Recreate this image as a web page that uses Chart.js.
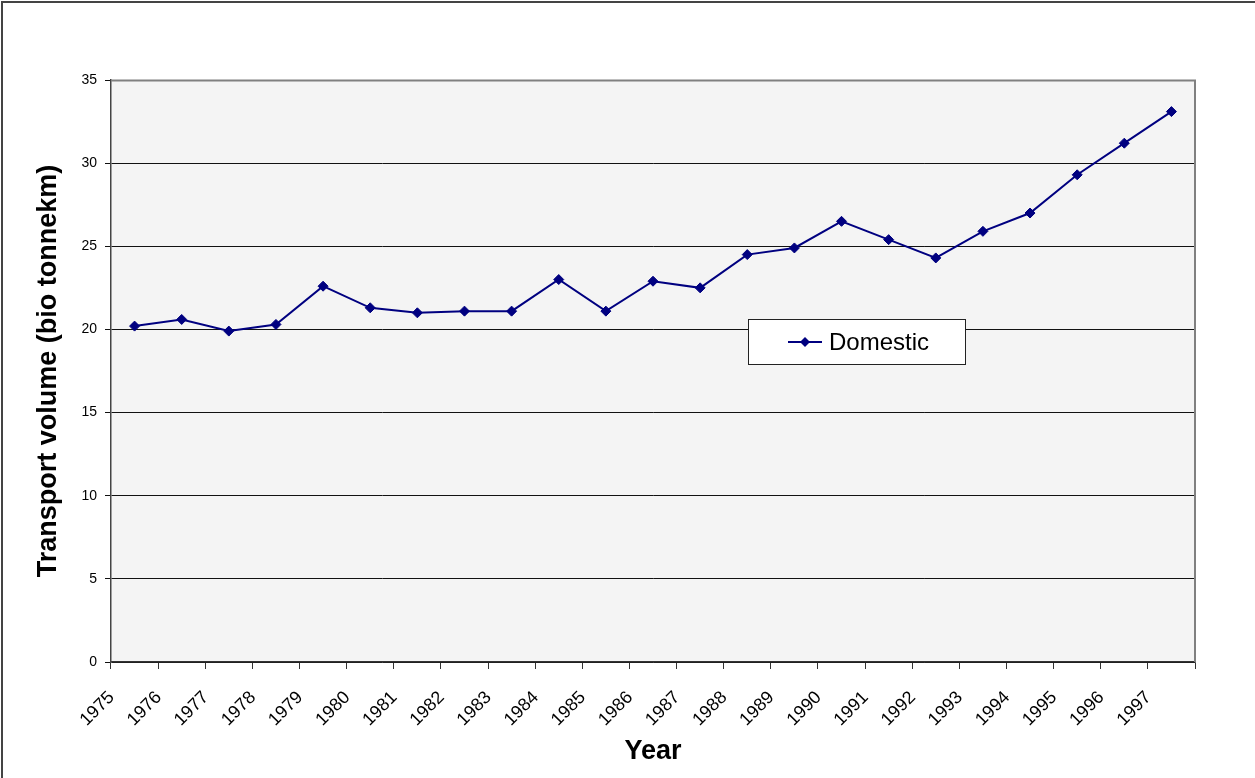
<!DOCTYPE html>
<html>
<head>
<meta charset="utf-8">
<script src="https://cdn.jsdelivr.net/npm/chart.js@4/dist/chart.umd.min.js"></script>
<style>
  html, body { margin: 0; padding: 0; background: #fff; }
  #wrap { position: relative; width: 1255px; height: 778px; overflow: hidden; }
  #frame { position: absolute; left: 1px; top: 1px; width: 1260px; height: 800px;
           border-left: 2px solid #444; border-top: 2px solid #444; pointer-events: none; }
  canvas { position: absolute; left: 0; top: 0; }
</style>
</head>
<body>
<div id="wrap">
  <canvas id="chart" width="1255" height="778"></canvas>
  <div id="frame"></div>
</div>
<script>
// Years on the category axis
const years = ['1975','1976','1977','1978','1979','1980','1981','1982','1983','1984','1985','1986',
               '1987','1988','1989','1990','1991','1992','1993','1994','1995','1996','1997'];
// Domestic freight transport volume, billion tonne-km
const domestic = [20.2, 20.6, 19.9, 20.3, 22.6, 21.3, 21.0, 21.1, 21.1, 23.0, 21.1, 22.9,
                  22.5, 24.5, 24.9, 26.5, 25.4, 24.3, 25.9, 27.0, 29.3, 31.2, 33.1];
// Value axis ticks
const yMin = 0, yMax = 35, yStep = 5;

const FONT = "'Liberation Sans', Arial, sans-serif";
const NAVY = '#000080';

// Plot background and frame
const plotBackground = {
  id: 'plotBackground',
  beforeDraw(chart) {
    const { ctx, chartArea: a } = chart;
    ctx.save();
    ctx.fillStyle = '#f4f4f4';
    ctx.fillRect(a.left, a.top, a.right - a.left, a.bottom - a.top);
    ctx.restore();
  },
  afterDatasetsDraw(chart) {
    const { ctx, chartArea: a } = chart;
    ctx.save();
    ctx.strokeStyle = '#808080';
    ctx.lineWidth = 2;
    ctx.beginPath();
    ctx.moveTo(a.left, a.top + 0.5);
    ctx.lineTo(a.right, a.top + 0.5);
    ctx.lineTo(a.right, a.bottom);
    ctx.stroke();
    ctx.restore();
  }
};

// Boxed legend inside the plot
const boxedLegend = {
  id: 'boxedLegend',
  afterDraw(chart) {
    const { ctx, chartArea: a } = chart;
    const ds = chart.data.datasets[0];
    const x = a.left + 637, y = a.top + 239, w = 217, h = 45;
    ctx.save();
    ctx.fillStyle = '#ffffff';
    ctx.fillRect(x, y, w, h);
    ctx.strokeStyle = '#222';
    ctx.lineWidth = 1;
    ctx.strokeRect(x + 0.5, y + 0.5, w, h);
    const my = y + 23;
    ctx.strokeStyle = ds.borderColor;
    ctx.lineWidth = 2;
    ctx.beginPath();
    ctx.moveTo(x + 40, my);
    ctx.lineTo(x + 74, my);
    ctx.stroke();
    ctx.fillStyle = ds.pointBackgroundColor;
    ctx.beginPath();
    const r = 5, cx = x + 57;
    ctx.moveTo(cx, my - r); ctx.lineTo(cx + r, my); ctx.lineTo(cx, my + r); ctx.lineTo(cx - r, my);
    ctx.closePath();
    ctx.fill();
    ctx.fillStyle = '#000';
    ctx.font = '24px ' + FONT;
    ctx.textBaseline = 'middle';
    ctx.textAlign = 'left';
    ctx.fillText(ds.label, x + 81, my + 1);
    ctx.restore();
  }
};

new Chart(document.getElementById('chart'), {
  type: 'line',
  data: {
    labels: years,
    datasets: [{
      label: 'Domestic',
      data: domestic,
      borderColor: NAVY,
      backgroundColor: NAVY,
      pointBackgroundColor: NAVY,
      pointBorderColor: NAVY,
      pointStyle: 'rectRot',
      pointRadius: 5,
      pointBorderWidth: 1,
      borderWidth: 2,
      tension: 0,
      fill: false
    }]
  },
  options: {
    responsive: false,
    animation: false,
    devicePixelRatio: 1,
    layout: { padding: { top: 80, right: 60, left: 0, bottom: 0 } },
    plugins: {
      legend: { display: false },
      tooltip: { enabled: false }
    },
    scales: {
      x: {
        offset: true,
        grid: { display: true, offset: true, drawOnChartArea: false, drawTicks: true,
                tickLength: 7, color: '#333', lineWidth: 1 },
        border: { display: true, color: '#333', width: 1.5 },
        ticks: { color: '#000', font: { family: FONT, size: 18 },
                 maxRotation: 45, minRotation: 45, labelOffset: -23, padding: 18, autoSkip: false },
        title: { display: true, text: 'Year', color: '#000',
                 font: { family: FONT, size: 27, weight: 'bold' }, padding: { top: 0, bottom: 10 } },
        afterFit(s) { s.height = 116; }
      },
      y: {
        min: yMin, max: yMax,
        ticks: { stepSize: yStep, color: '#000', font: { family: FONT, size: 14 }, padding: 8 },
        grid: { color: '#111', lineWidth: 1, drawTicks: true, tickLength: 6 },
        border: { display: true, color: '#444', width: 1.5 },
        title: { display: true, text: 'Transport volume (bio tonnekm)', color: '#000',
                 font: { family: FONT, size: 27, weight: 'bold' }, padding: { top: 32, bottom: 0 } },
        afterFit(s) { s.width = 111; }
      }
    }
  },
  plugins: [plotBackground, boxedLegend]
});
</script>
</body>
</html>
